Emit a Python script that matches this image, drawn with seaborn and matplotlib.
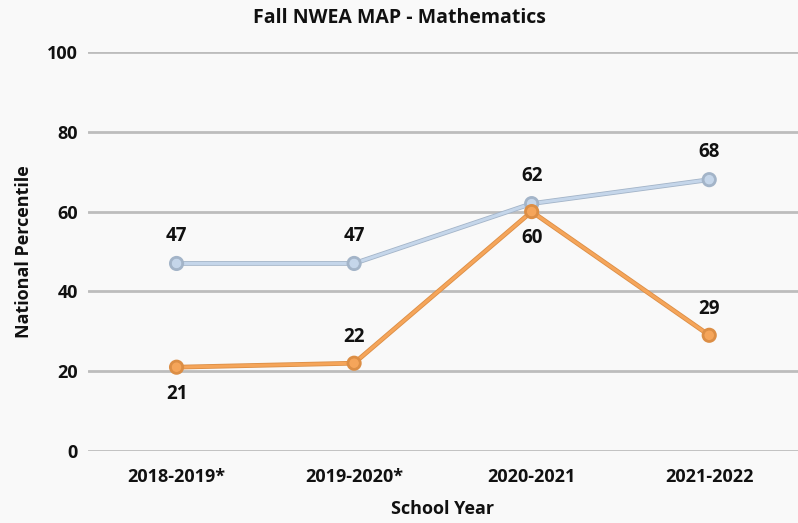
import matplotlib
matplotlib.use("Agg")
import matplotlib.pyplot as plt
import matplotlib.patheffects as pe
import seaborn as sns
import pandas as pd

# Data
school_years = ["2018-2019*", "2019-2020*", "2020-2021", "2021-2022"]
series_blue = [47, 47, 62, 68]
series_orange = [21, 22, 60, 29]

# label placement: +1 above the point, -1 below
blue_label_side = [1, 1, 1, 1]
orange_label_side = [-1, 1, -1, 1]

sns.set_theme(style="white")
plt.rcParams["font.family"] = ["Open Sans", "DejaVu Sans"]

df = pd.DataFrame({
    "year": school_years * 2,
    "value": series_blue + series_orange,
    "series": ["blue"] * 4 + ["orange"] * 4,
})

bg = "#f9f9f9"
fig = plt.figure(figsize=(7.98, 5.23), dpi=100, facecolor=bg)
ax = fig.add_axes([0.110, 0.1377, 0.890, 0.7629])
ax.set_facecolor(bg)

palette = {"blue": "#c5d6ea", "orange": "#f5a55a"}
edges = {"blue": "#a3b4c8", "orange": "#dc8e45"}

sns.lineplot(data=df, x="year", y="value", hue="series", palette=palette,
             marker="o", markersize=7.5, linewidth=2.2, ax=ax, legend=False,
             sort=False, zorder=3)

for line, key in zip(ax.get_lines(), ["blue", "orange"]):
    line.set_path_effects([pe.Stroke(linewidth=3.4, foreground=edges[key]), pe.Normal()])
    line.set_markeredgecolor(edges[key])
    line.set_markeredgewidth(0.6)

for i, (v, s) in enumerate(zip(series_blue, blue_label_side)):
    ax.annotate(str(v), (i, v), xytext=(0, 20 * s), textcoords="offset points",
                ha="center", va="center", fontsize=13.5, fontweight="bold", color="#111111")
for i, (v, s) in enumerate(zip(series_orange, orange_label_side)):
    ax.annotate(str(v), (i, v), xytext=(0, 19 * s), textcoords="offset points",
                ha="center", va="center", fontsize=13.5, fontweight="bold", color="#111111")

ax.set_ylim(0, 100)
ax.set_xlim(-0.5, 3.5)
ax.set_yticks([0, 20, 40, 60, 80, 100])
ax.yaxis.grid(True, color="#bdbdbd", linewidth=2)
ax.xaxis.grid(False)
for sp in ax.spines.values():
    sp.set_visible(False)
ax.tick_params(axis="both", length=0, labelsize=13, colors="#111111")
ax.tick_params(axis="y", pad=7)
ax.tick_params(axis="x", pad=12)
for lab in ax.get_xticklabels() + ax.get_yticklabels():
    lab.set_fontweight("bold")

ax.set_xlabel("School Year", fontsize=13, fontweight="bold", color="#111111", labelpad=10)
ax.set_ylabel("National Percentile", fontsize=13, fontweight="bold", color="#111111", labelpad=10)
fig.text(0.5, 0.965, "Fall NWEA MAP - Mathematics", ha="center", va="center",
         fontsize=14, fontweight="bold", color="#111111")

fig.savefig("out.png", dpi=100, facecolor=bg)
